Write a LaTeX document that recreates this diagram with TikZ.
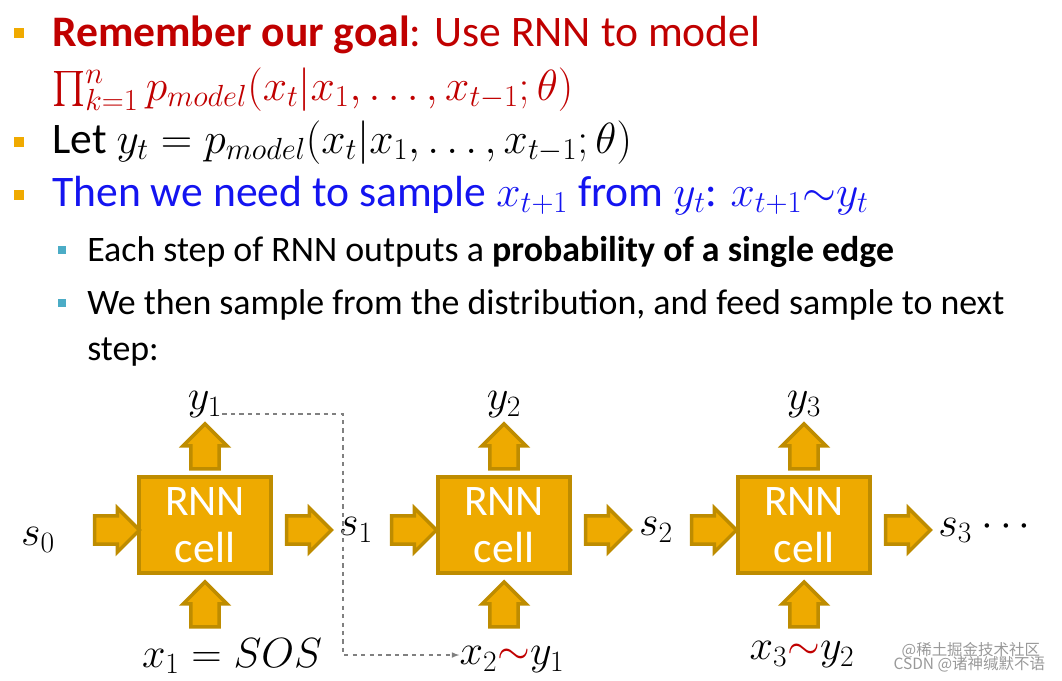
\RequirePackage{fix-cm}
\documentclass[tikz,border=0pt]{standalone}
\usepackage{fontspec}
\setmainfont{Carlito}
\newfontfamily\cjk{Noto Sans CJK SC}
\usepackage{amsmath}
\usetikzlibrary{shapes.arrows,positioning}
\definecolor{goalred}{RGB}{192, 0, 0}
\definecolor{thenblue}{RGB}{20, 20, 240}
\definecolor{bulletorange}{RGB}{240, 170, 0}
\definecolor{subbullet}{RGB}{75, 172, 198}
\definecolor{cellfill}{RGB}{238, 170, 0}
\definecolor{celldraw}{RGB}{190, 140, 0}
\newcommand{\mth}[1]{{\fontsize{31}{34}\selectfont$#1$}}
\begin{document}
\begin{tikzpicture}[
    x=0.025cm, y=-0.025cm,
    bigtxt/.style={anchor=base west, inner sep=0pt, font=\fontsize{31}{34}\selectfont},
    smalltxt/.style={anchor=base west, inner sep=0pt, font=\fontsize{25.5}{28}\selectfont},
    bullet/.style={rectangle, fill=bulletorange, minimum size=0.26cm, inner sep=0pt},
    subbul/.style={rectangle, fill=subbullet, minimum size=0.19cm, inner sep=0pt},
    cell/.style={rectangle, fill=cellfill, draw=celldraw, line width=3.5pt, minimum width=3.3cm, minimum height=2.4cm, align=center, text=white, font=\fontsize{31}{33}\selectfont},
    blk/.style={single arrow, fill=cellfill, draw=celldraw, line width=2.5pt, minimum height=1.12cm, minimum width=1.1cm, single arrow head extend=0.08cm, inner sep=0.1cm, shape border rotate=#1},
    lbl/.style={font=\fontsize{30}{34}\selectfont, inner sep=0pt},
    wmark/.style={font=\cjk\fontsize{11}{13}\selectfont, text=gray!80}
]
\useasboundingbox (0,0) rectangle (1062,680);

% Bullets
\node[bullet] (b1) at (19,33) {};
\node[bigtxt, text=goalred] (t1) at (52,46) {\textbf{Remember our goal}: Use RNN to model};
\node[bigtxt, text=goalred] (t1b) at (52,100) {\mth{\prod_{k=1}^{n} p_{model}(x_t|x_1,\dots,x_{t-1};\theta)}};
\node[bullet] (b2) at (19,142) {};
\node[bigtxt] (t2) at (52,153) {Let \mth{y_t = p_{model}(x_t|x_1,\dots,x_{t-1};\theta)}};
\node[bullet] (b3) at (19,195) {};
\node[bigtxt, text=thenblue] (t3) at (52,206) {Then we need to sample \mth{x_{t+1}} from \mth{y_t}: \mth{x_{t+1}{\sim}y_t}};
\node[subbul] (b4) at (62,250) {};
\node[smalltxt] (t4) at (87,261) {Each step of RNN outputs a \textbf{probability of a single edge}};
\node[subbul] (b5) at (62,303) {};
\node[smalltxt] (t5) at (87,314) {We then sample from the distribution, and feed sample to next};
\node[smalltxt] (t5b) at (87,360) {step:};

% Cells
\node[cell] (c1) at (205,525) {RNN\\cell};
\node[cell] (c2) at (504,525) {RNN\\cell};
\node[cell] (c3) at (804,525) {RNN\\cell};

% Block arrows
\node[blk=0] (r0) at (110,530) {};
\node[blk=0] (r1) at (302,530) {};
\node[blk=0] (r2) at (407,530) {};
\node[blk=0] (r3) at (601,530) {};
\node[blk=0] (r4) at (707,530) {};
\node[blk=0] (r5) at (901,530) {};
\foreach \c in {1,2,3} {
  \node[blk=90, above=0.1cm of c\c] (u\c) {};
  \node[blk=90, below=0.1cm of c\c] (d\c) {};
}

% Labels
\node[lbl] (s0) at (38,540) {$s_0$};
\node[lbl] (s1) at (356,530) {$s_1$};
\node[lbl] (s2) at (656,530) {$s_2$};
\node[lbl, anchor=west] (s3) at (938,530) {$s_3$ $\cdots$};
\node[lbl] (y1) at (205,405) {$y_1$};
\node[lbl] (y2) at (504,405) {$y_2$};
\node[lbl] (y3) at (804,405) {$y_3$};
\node[lbl] (x1) at (232,656) {$x_1 = SOS$};
\node[lbl] (x2) at (512,660) {$x_2{\color{goalred}\sim}y_1$};
\node[lbl] (x3) at (802,655) {$x_3{\color{goalred}\sim}y_2$};

% Sampling path
\coordinate (k1) at (343,414);
\coordinate (k2) at (343,655);
\draw[gray, dashed, thick, -latex] (y1.east |- k1) -- (k1) -- (k2) -- (x2.west |- k2);

% Watermark
\node[wmark, anchor=east] (w1) at (1045,650) {@稀土掘金技术社区};
\node[wmark, anchor=east] (w2) at (1050,664) {CSDN @诸神缄默不语};
\end{tikzpicture}
\end{document}
